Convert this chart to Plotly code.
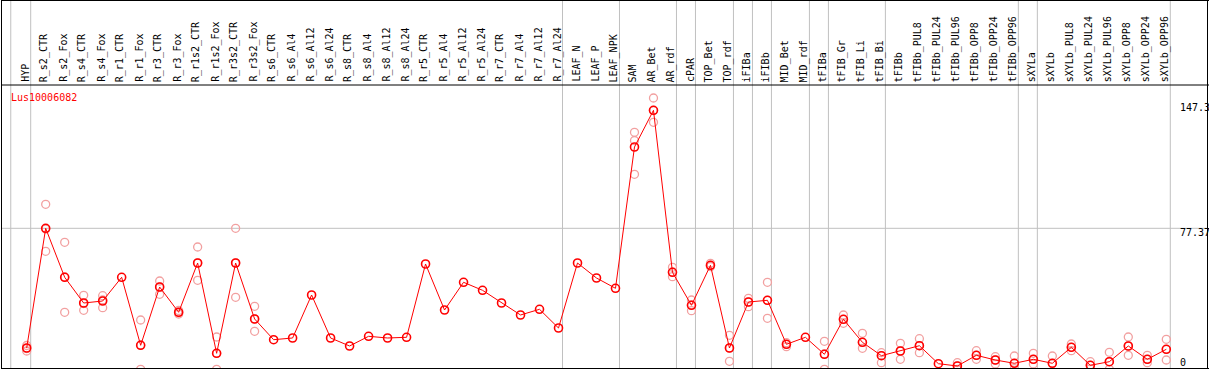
import plotly.graph_objects as go

W, H = 1209, 370
ML, MR, MT, MB = 1, 1, 85, 1

categories = ["HYP", "R_s2_CTR", "R_s2_Fox", "R_s4_CTR", "R_s4_Fox", "R_r1_CTR", "R_r1_Fox",
              "R_r3_CTR", "R_r3_Fox", "R_r1s2_CTR", "R_r1s2_Fox", "R_r3s2_CTR", "R_r3s2_Fox",
              "R_s6_CTR", "R_s6_Al4", "R_s6_Al12", "R_s6_Al24", "R_s8_CTR", "R_s8_Al4", "R_s8_Al12",
              "R_s8_Al24", "R_r5_CTR", "R_r5_Al4", "R_r5_Al12", "R_r5_Al24", "R_r7_CTR", "R_r7_Al4",
              "R_r7_Al12", "R_r7_Al24", "LEAF_N", "LEAF_P", "LEAF_NPK", "SAM", "AR_Bet", "AR_rdf",
              "cPAR", "TOP_Bet", "TOP_rdf", "iFIBa", "iFIBb", "MID_Bet", "MID_rdf", "tFIBa",
              "tFIB_Gr", "tFIB_Li", "tFIB_Bi", "tFIBb", "tFIBb_PUL8", "tFIBb_PUL24", "tFIBb_PUL96",
              "tFIBb_OPP8", "tFIBb_OPP24", "tFIBb_OPP96", "sXYLa", "sXYLb", "sXYLb_PUL8",
              "sXYLb_PUL24", "sXYLb_PUL96", "sXYLb_OPP8", "sXYLb_OPP24", "sXYLb_OPP96"]

means = [6.43, 77.37, 48.33, 33.10, 34.28, 48.33, 8.03,
         42.58, 27.59, 56.80, 3.29, 56.80, 23.62,
         11.35, 12.36, 37.84, 12.36, 7.62, 13.36, 12.36,
         12.77, 56.21, 28.95, 45.37, 40.62, 33.10, 25.99,
         29.36, 18.28, 56.80, 47.91, 41.81, 125.55, 147.3, 51.29,
         31.74, 55.44, 6.43, 33.69, 34.70, 8.62, 12.77, 2.70,
         23.44, 9.81, 1.87, 4.65, 7.79, -2.87, -4.24,
         2.10, -0.68, -2.64, -0.27, -2.64, 6.84,
         -3.82, -1.69, 7.62, -0.27, 5.66]

replicates = [
    [7.91, 6.13, 4.65], [91.59, 76.95, 63.74], [69.07, 48.51, 27.59], [37.66, 32.80, 28.77],
    [37.42, 34.88, 30.31], [], [23.02, 8.21, -6.19],
    [46.14, 42.58, 38.25], [28.65, 27.59, 26.58], [66.29, 56.80, 46.55], [12.95, 3.29, -6.19],
    [77.37, 56.80, 36.48], [31.14, 23.62, 16.33],
    [], [], [], [], [], [], [],
    [], [], [], [], [], [], [],
    [], [], [], [], [], [134.26, 129.40, 109.37], [154.59, 147.18, 140.18], [54.25, 51.47, 48.68],
    [34.88, 31.91, 28.53], [56.62, 55.44, 54.61], [13.96, 6.43, -1.45], [35.88, 33.69, 30.90],
    [45.37, 34.70, 24.03], [9.57, 8.62, 7.20], [], [10.40, 2.87, -6.19],
    [25.99, 23.44, 21.07], [15.14, 9.81, 6.25], [3.64, 1.87, -2.28], [9.22, 4.65, -0.27],
    [11.94, 7.79, 3.64], [], [-2.28, -4.24, -6.19],
    [4.83, 2.10, -0.27], [1.27, -0.68, -3.05], [1.69, -2.64, -5.84], [3.29, -0.27, -3.05],
    [1.69, -2.64, -7.5], [8.80, 6.84, 4.83],
    [-1.69, -3.82, -5.9], [3.88, -1.69, -6.19], [12.95, 7.62, 2.10], [2.10, -0.27, -2.28],
    [11.59, 5.66, -0.68]]

group_breaks = [0, 28, 31, 34, 35, 37, 38, 39, 41, 42, 45, 52, 53, 60]
ytick_vals = [0, 77.37, 147.3]
ytick_text = ["0", "77.37", "147.3"]
grid_vals = [77.37]
gene = "Lus10006082"

x_idx = list(range(len(categories)))
rep_x = [i for i, r in zip(x_idx, replicates) for _ in r]
rep_y = [v for r in replicates for v in r]

FONT = "DejaVu Sans Mono"
PW = W - ML - MR
PH = H - MT - MB


def px_x(p):
    return (p - ML) / PW


def px_y(p):
    return (H - MB - p) / PH


fig = go.Figure()
fig.add_trace(go.Scatter(x=rep_x, y=rep_y, mode="markers",
                         marker=dict(symbol="circle-open", size=8, color="#f2a0a0",
                                     line=dict(width=1.3, color="#f2a0a0")),
                         hoverinfo="skip", showlegend=False))
fig.add_trace(go.Scatter(x=x_idx, y=means, mode="lines+markers",
                         line=dict(color="#ff0000", width=1),
                         marker=dict(symbol="circle-open", size=8, color="#ff0000",
                                     line=dict(width=1.6, color="#ff0000")),
                         showlegend=False))

shapes = []
grey = "#c0c0c0"
# vertical separators
for xv in [-0.84] + [b + 0.21 for b in group_breaks]:
    shapes.append(dict(type="line", xref="x", yref="paper", x0=xv, x1=xv,
                       y0=px_y(369), y1=px_y(0), line=dict(color=grey, width=1), layer="below"))
for gv in grid_vals:
    shapes.append(dict(type="line", xref="paper", yref="y", x0=px_x(1.5), x1=px_x(1208),
                       y0=gv, y1=gv, line=dict(color=grey, width=1), layer="below"))
# frame
blk = dict(color="black", width=1)
shapes.append(dict(type="line", xref="paper", yref="paper", x0=px_x(1), x1=px_x(1209),
                   y0=px_y(0.5), y1=px_y(0.5), line=blk))
shapes.append(dict(type="line", xref="paper", yref="paper", x0=px_x(1), x1=px_x(1209),
                   y0=px_y(85), y1=px_y(85), line=blk))
shapes.append(dict(type="line", xref="paper", yref="paper", x0=px_x(1), x1=px_x(1209),
                   y0=px_y(368.5), y1=px_y(368.5), line=blk))
shapes.append(dict(type="line", xref="paper", yref="paper", x0=px_x(1.5), x1=px_x(1.5),
                   y0=px_y(0), y1=px_y(369), line=blk))
shapes.append(dict(type="line", xref="paper", yref="paper", x0=px_x(1207.5), x1=px_x(1207.5),
                   y0=px_y(0), y1=px_y(369), line=blk))

annotations = []
for i, c in enumerate(categories):
    annotations.append(dict(x=i, xref="x", y=px_y(84), yref="paper", text=c, textangle=-90,
                            xanchor="center", yanchor="bottom", showarrow=False, xshift=-1,
                            font=dict(family=FONT, size=10, color="black")))
annotations.append(dict(x=px_x(9), xref="paper", y=px_y(97), yref="paper", text=gene,
                        xanchor="left", yanchor="middle", showarrow=False,
                        font=dict(family=FONT, size=10, color="#ff0000")))
yshifts = [-3.8, -4.4, 3.3]
for v, t, s in zip(ytick_vals, ytick_text, yshifts):
    annotations.append(dict(x=px_x(1178), xref="paper", y=v, yref="y", text=t, xanchor="left",
                            yanchor="middle", yshift=s, showarrow=False,
                            font=dict(family=FONT, size=10, color="black")))

# axis ranges from pixel geometry
x_px_per = (1166.3 - 26.7) / 60.0
x0 = -(26.7 - ML) / x_px_per
x1 = x0 + PW / x_px_per
y_px_per = 1.6874
y_zero = 358.85
y0 = -(H - MB - y_zero) / y_px_per
y1 = (y_zero - MT) / y_px_per

fig.update_layout(
    width=W, height=H, margin=dict(l=ML, r=MR, t=MT, b=MB, pad=0, autoexpand=False),
    paper_bgcolor="white", plot_bgcolor="white",
    xaxis=dict(range=[x0, x1], showgrid=False, zeroline=False, showticklabels=False,
               ticks="", showline=False, fixedrange=True),
    yaxis=dict(range=[y0, y1], showgrid=False, zeroline=False, showticklabels=False,
               ticks="", showline=False, fixedrange=True),
    shapes=shapes, annotations=annotations, showlegend=False,
)

fig.write_html("out.html", config={"displayModeBar": False},
               post_script="document.body.style.margin='0';document.body.style.overflow='hidden';")
